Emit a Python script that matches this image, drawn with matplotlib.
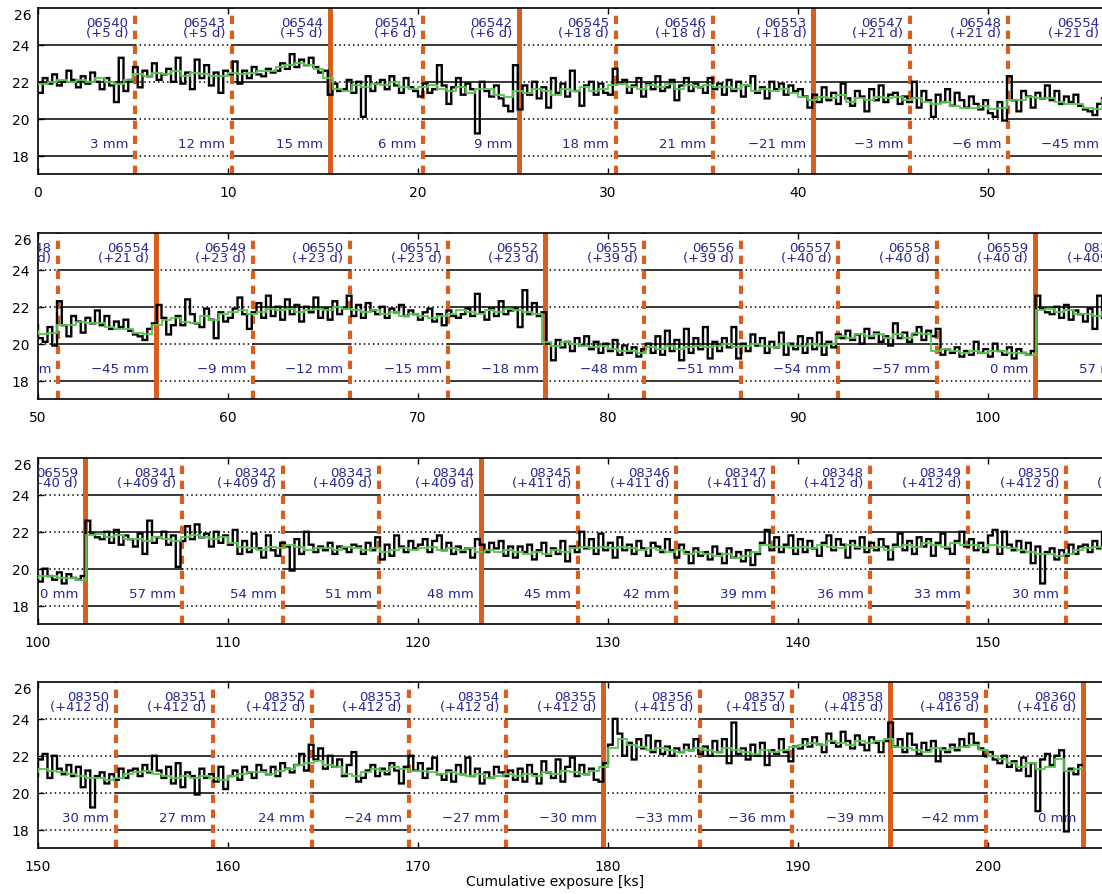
import numpy as np
import matplotlib
matplotlib.use("Agg")
import matplotlib.pyplot as plt

# count rate, 0.25 ks bins, one row = 5 ks of cumulative exposure
bin_ks = 0.25
rate = [
    21.4, 22.2, 21.9, 22.4, 21.8, 22.0, 22.6, 22.1, 21.7, 22.3, 21.9, 22.5, 22.0, 21.6, 22.2, 21.8, 20.9, 23.3, 21.5, 22.1,
    22.8, 21.7, 22.6, 22.3, 23.0, 22.1, 22.4, 22.7, 22.0, 23.3, 21.9, 22.5, 21.6, 23.2, 22.2, 22.9, 21.8, 22.5, 21.4, 22.6,
    22.4, 23.1, 21.9, 22.6, 22.2, 22.8, 22.4, 22.3, 22.7, 22.5, 22.6, 23.0, 22.7, 23.5, 22.8, 23.2, 22.9, 23.3, 22.8, 22.5,
    22.6, 21.3, 21.9, 21.5, 21.6, 22.1, 21.4, 22.0, 20.1, 22.3, 21.5, 21.9, 22.1, 21.6, 22.3, 21.8, 21.4, 22.2, 21.7, 21.5,
    21.2, 21.9, 21.4, 21.6, 22.9, 21.8, 20.8, 21.7, 22.2, 21.3, 21.9, 21.6, 19.2, 22.0, 21.5, 21.2, 21.8, 21.1, 20.7, 20.4,
    22.9, 20.5, 21.8, 21.3, 22.0, 21.1, 21.7, 20.6, 22.2, 21.4, 21.9, 21.2, 22.6, 21.5, 20.7, 21.8, 22.0, 21.3, 21.9, 21.4,
    21.3, 22.7, 21.9, 22.1, 21.4, 21.8, 22.2, 21.2, 21.9, 21.6, 22.3, 21.5, 21.7, 22.1, 21.0, 21.8, 22.2, 21.5, 21.9, 21.7,
    21.4, 22.2, 21.6, 21.9, 21.3, 22.1, 21.5, 22.0, 21.2, 21.8, 22.3, 21.4, 21.7, 21.1, 22.0, 21.6, 21.9, 21.3, 21.8, 21.5,
    21.6, 21.2, 20.6, 21.3, 20.9, 21.7, 21.0, 21.4, 20.8, 21.9, 21.1, 20.7, 21.5, 21.2, 20.4, 21.6, 21.0, 21.8, 20.9, 21.3,
    21.4, 20.8, 21.2, 20.9, 22.0, 20.6, 21.5, 21.0, 20.1, 21.3, 20.9, 21.6, 20.7, 21.4, 21.0, 20.6, 21.2, 20.8, 20.5, 21.0,
    20.3, 20.1, 20.9, 19.9, 22.3, 21.0, 20.4, 21.5, 21.2, 20.6, 21.4, 21.1, 21.8, 21.0, 21.5, 20.8, 21.2, 20.9, 21.3, 20.7,
    20.5, 20.4, 20.2, 20.8, 21.1, 22.1, 21.4, 20.5, 21.0, 21.5, 21.0, 22.4, 21.6, 21.1, 20.9, 21.9, 21.3, 20.3, 21.7, 21.2,
    21.4, 21.9, 22.5, 21.6, 20.8, 21.7, 22.2, 21.4, 22.6, 21.5, 22.0, 21.3, 22.4, 21.6, 22.1, 21.2, 22.0, 21.7, 22.5, 21.4,
    21.9, 21.3, 22.3, 21.6, 21.9, 22.6, 21.5, 22.1, 21.4, 22.2, 21.8, 21.6, 22.0, 21.4, 21.9, 21.7, 22.1, 21.5, 21.8, 21.6,
    21.3, 21.7, 21.9, 21.2, 21.6, 21.0, 21.8, 21.5, 21.4, 21.6, 21.9, 21.5, 22.7, 21.7, 21.3, 21.9, 21.5, 22.3, 21.6, 21.8,
    21.9, 20.9, 22.9, 21.6, 22.2, 21.5, 21.7, 20.0, 19.1, 20.2, 19.8, 20.1, 19.6, 20.3, 19.9, 20.4, 19.7, 20.1, 19.5, 20.0,
    19.6, 20.2, 19.4, 19.9, 19.5, 19.8, 19.3, 19.7, 20.0, 19.5, 20.4, 19.4, 20.7, 19.6, 20.2, 19.1, 20.8, 19.5, 20.3, 19.7,
    20.9, 19.2, 20.1, 19.6, 20.3, 19.8, 20.9, 19.2, 20.0, 19.6, 20.5, 19.9, 20.3, 19.5, 20.1, 19.8, 20.6, 19.4, 20.0, 19.7,
    20.4, 19.5, 20.3, 19.7, 20.6, 19.4, 20.1, 19.8, 20.5, 20.3, 20.7, 20.2, 20.5, 20.0, 20.8, 20.3, 20.6, 20.1, 20.4, 19.9,
    21.1, 20.3, 20.6, 20.1, 20.5, 20.9, 20.2, 20.7, 20.4, 20.8, 19.4, 19.7, 19.5, 19.8, 19.3, 19.6, 19.4, 20.1, 19.5, 19.7,
    19.3, 20.0, 19.6, 19.4, 19.8, 19.2, 19.7, 19.5, 19.4, 19.6, 22.6, 21.9, 21.7, 21.6, 22.0, 21.4, 22.1, 21.3, 21.8, 21.6,
    21.2, 21.9, 20.8, 22.6, 21.4, 21.7, 22.0, 21.3, 21.8, 20.1, 21.5, 22.3, 21.6, 22.4, 21.7, 21.9, 21.2, 22.0, 21.4, 21.8,
    21.3, 22.1, 20.8, 21.5, 20.9, 21.9, 21.1, 20.6, 21.8, 21.0, 20.7, 21.4, 21.2, 19.9, 21.6, 20.8, 22.0, 21.3, 20.9, 21.2,
    21.0, 21.4, 20.8, 21.2, 21.1, 20.9, 21.3, 21.2, 20.8, 21.4, 21.0, 21.7, 20.5, 21.3, 20.7, 21.8, 21.2, 20.9, 21.5, 21.1,
    21.3, 21.6, 20.9, 21.5, 21.8, 21.0, 21.4, 20.8, 21.2, 20.9, 21.1, 20.6, 21.6, 21.3, 20.9, 21.4, 21.1, 21.5, 20.7, 21.2,
    20.6, 21.2, 20.9, 21.3, 20.5, 21.0, 21.4, 20.7, 21.1, 20.8, 21.5, 20.4, 21.2, 20.9, 22.0, 21.1, 21.6, 20.8, 21.9, 21.0,
    21.4, 20.6, 21.7, 21.0, 21.3, 20.8, 21.5, 21.1, 20.7, 21.4, 21.2, 20.9, 21.6, 21.0, 20.6, 21.3, 20.9, 20.3, 21.1, 20.7,
    20.9, 20.5, 21.2, 20.8, 20.3, 21.1, 20.6, 20.9, 20.4, 21.0, 20.2, 20.8, 21.4, 22.1, 21.0, 21.7, 20.9, 21.3, 21.8, 20.8,
    21.6, 20.9, 21.5, 21.1, 20.7, 21.4, 21.8, 21.0, 21.6, 21.3, 20.6, 21.5, 21.1, 21.7, 20.9, 21.4, 21.0, 21.6, 21.2, 20.5,
    21.3, 21.9, 21.0, 21.5, 20.8, 21.7, 21.2, 21.6, 20.7, 21.4, 21.9, 21.1, 20.8, 21.5, 22.0, 21.2, 21.6, 21.0, 21.4, 20.9,
    21.8, 22.1, 20.8, 22.0, 21.3, 21.0, 21.5, 20.9, 21.4, 20.3, 21.2, 19.2, 20.9, 21.1, 20.5, 21.0, 20.7, 21.3, 20.8, 21.2,
    21.3, 20.9, 21.5, 21.1, 22.0, 21.2, 20.8, 21.4, 20.5, 21.6, 20.3, 21.1, 20.9, 19.9, 21.3, 20.8, 21.0, 20.6, 21.4, 20.2,
    20.9, 21.2, 20.7, 21.4, 21.1, 20.8, 21.5, 21.2, 21.0, 21.4, 20.9, 21.6, 21.3, 21.1, 21.5, 22.1, 21.2, 22.6, 21.8, 22.4,
    21.3, 22.0, 21.4, 21.8, 20.9, 21.5, 22.2, 20.6, 20.8, 21.2, 21.5, 20.9, 21.3, 21.0, 21.6, 21.2, 20.5, 21.4, 22.0, 21.2,
    21.6, 20.8, 21.3, 21.9, 21.0, 20.7, 21.2, 20.6, 21.5, 21.0, 21.9, 20.9, 21.3, 20.5, 21.1, 20.8, 21.4, 21.1, 20.9, 21.2,
    20.7, 21.3, 20.6, 21.5, 21.0, 20.5, 21.7, 21.1, 20.8, 21.8, 20.6, 21.4, 21.9, 20.9, 21.5, 21.0, 21.3, 20.7, 20.6, 21.6,
    22.6, 24.0, 23.2, 22.0, 22.7, 21.8, 22.9, 22.4, 23.1, 22.2, 22.8, 22.1, 22.5, 22.0, 22.4, 22.2, 22.6, 22.3, 22.9, 22.1,
    22.5, 22.0, 22.8, 22.2, 22.9, 21.6, 23.8, 22.1, 22.4, 21.8, 22.6, 22.0, 22.7, 21.5, 22.3, 22.1, 22.9, 22.2, 21.7, 22.5,
    22.4, 22.9, 22.5, 23.0, 22.6, 22.2, 23.2, 22.7, 22.5, 23.3, 22.8, 22.4, 23.1, 22.6, 22.3, 23.0, 22.7, 22.2, 22.8, 23.8,
    22.5, 22.9, 22.2, 23.2, 22.6, 22.1, 22.7, 22.3, 22.8, 21.7, 22.4, 22.2, 22.6, 22.3, 22.9, 22.5, 23.2, 22.7, 22.4, 22.0,
    22.2, 21.8, 21.6, 22.0, 21.4, 21.7, 21.2, 21.9, 20.9, 21.6, 19.0, 21.8, 22.1, 21.5, 22.0, 22.3, 17.9, 21.3, 21.0, 21.5,
]

# smoothed rate, 0.5 ks bins
smooth_ks = 0.5
rate_smooth = [
    21.9, 22.0, 22.1, 22.0, 22.1, 22.0, 22.2, 22.0, 21.9, 22.1,
    22.4, 22.3, 22.5, 22.4, 22.6, 22.3, 22.5, 22.4, 22.3, 22.3,
    22.5, 22.4, 22.5, 22.6, 22.6, 22.8, 22.9, 23.0, 22.9, 22.7,
    22.2, 21.6, 21.5, 21.8, 21.7, 21.9, 21.8, 22.0, 21.7, 21.6,
    21.7, 21.8, 21.6, 21.5, 21.7, 21.4, 21.6, 21.6, 21.3, 21.2,
    21.5, 21.4, 21.6, 21.5, 21.3, 21.6, 21.5, 21.7, 21.5, 21.6,
    21.8, 21.9, 21.7, 21.6, 21.8, 21.7, 21.9, 21.6, 21.8, 21.7,
    21.8, 21.7, 21.7, 21.6, 21.8, 21.5, 21.6, 21.5, 21.6, 21.4,
    21.2, 21.0, 21.2, 21.1, 21.3, 20.9, 21.1, 21.0, 21.2, 21.1,
    21.2, 21.0, 21.1, 20.9, 20.8, 20.9, 20.7, 20.6, 20.6, 20.7,
    20.5, 20.6, 21.0, 21.0, 21.2, 21.1, 21.1, 20.9, 20.8, 20.8,
    20.6, 20.5, 21.0, 21.3, 21.4, 21.2, 21.1, 21.5, 21.3, 21.6,
    21.7, 21.8, 21.6, 21.7, 21.9, 21.8, 21.9, 21.7, 21.8, 21.9,
    21.8, 22.0, 21.9, 21.8, 21.7, 21.8, 21.6, 21.7, 21.5, 21.6,
    21.5, 21.4, 21.5, 21.6, 21.8, 21.7, 21.6, 21.8, 21.7, 21.9,
    21.8, 21.7, 21.6, 20.1, 19.9, 20.1, 20.0, 19.9, 19.8, 19.9,
    19.7, 19.6, 19.6, 19.5, 19.8, 19.7, 19.9, 19.7, 19.8, 19.9,
    19.8, 19.9, 20.0, 19.8, 19.9, 20.0, 19.9, 19.8, 20.0, 19.9,
    19.9, 20.0, 19.9, 20.0, 20.4, 20.3, 20.5, 20.4, 20.5, 20.3,
    20.5, 20.3, 20.6, 20.5, 19.6, 19.7, 19.6, 19.5, 19.6, 19.5,
    19.6, 19.6, 19.5, 19.5, 19.4, 21.8, 21.9, 21.7, 21.8, 21.6,
    21.6, 21.5, 21.7, 21.6, 21.5, 21.7, 21.8, 21.7, 21.6, 21.7,
    21.4, 21.2, 21.1, 21.0, 21.2, 21.1, 21.3, 21.2, 21.0, 21.1,
    21.1, 21.0, 21.2, 21.1, 21.0, 21.1, 20.9, 21.0, 21.1, 21.0,
    21.1, 21.2, 21.0, 21.1, 21.0, 21.1, 20.9, 21.0, 20.9, 21.0,
    20.9, 20.8, 20.9, 20.8, 21.0, 20.9, 21.1, 21.2, 21.1, 21.2,
    21.1, 21.2, 21.1, 21.0, 21.1, 21.0, 20.9, 21.0, 20.8, 20.9,
    20.8, 20.7, 20.8, 20.6, 20.7, 20.9, 21.3, 21.2, 21.2, 21.1,
    21.2, 21.1, 21.3, 21.2, 21.1, 21.3, 21.2, 21.1, 21.2, 21.0,
    21.2, 21.3, 21.2, 21.4, 21.3, 21.2, 21.4, 21.3, 21.3, 21.1,
    21.3, 21.2, 21.1, 21.0, 20.9, 20.8, 20.8, 20.7, 20.8, 21.0,
    21.1, 21.2, 21.0, 20.9, 20.8, 20.9, 20.8, 20.9, 20.8, 20.7,
    20.9, 21.0, 21.1, 21.1, 21.0, 21.2, 21.3, 21.5, 21.6, 21.7,
    21.5, 21.4, 21.0, 20.9, 21.1, 21.3, 21.2, 21.4, 21.3, 21.2,
    21.2, 21.1, 21.0, 21.1, 21.0, 20.9, 21.0, 20.8, 20.9, 21.0,
    20.9, 21.0, 20.9, 21.1, 21.0, 21.2, 21.1, 21.0, 21.2, 21.4,
    22.4, 22.9, 22.6, 22.5, 22.3, 22.4, 22.3, 22.2, 22.3, 22.4,
    22.3, 22.2, 22.4, 22.3, 22.2, 22.1, 22.3, 22.2, 22.3, 22.5,
    22.6, 22.7, 22.6, 22.8, 22.7, 22.6, 22.8, 22.7, 22.8, 22.9,
    22.5, 22.4, 22.3, 22.2, 22.4, 22.3, 22.4, 22.5, 22.6, 22.3,
    22.0, 21.8, 21.6, 21.4, 21.6, 21.3, 21.4, 21.8, 21.2, 21.3,
]

# observations: end of each one in cumulative exposure [ks]
seg_end = [5.1, 10.2, 15.35, 20.25, 25.3, 30.4, 35.5, 40.8, 45.9, 51.05,
           56.2, 61.3, 66.4, 71.6, 76.7, 81.9, 87.0, 92.1, 97.3, 102.45,
           107.6, 112.9, 117.95, 123.3, 128.4, 133.6, 138.7, 143.8, 148.95, 154.1,
           159.2, 164.4, 169.5, 174.65, 179.75, 184.85, 189.7, 194.85, 199.9, 205.0]
obsid = ['06540', '06543', '06544', '06541', '06542', '06545', '06546', '06553', '06547', '06548',
         '06554', '06549', '06550', '06551', '06552', '06555', '06556', '06557', '06558', '06559',
         '08341', '08342', '08343', '08344', '08345', '08346', '08347', '08348', '08349', '08350',
         '08351', '08352', '08353', '08354', '08355', '08356', '08357', '08358', '08359', '08360']
days = [5, 5, 5, 6, 6, 18, 18, 18, 21, 21,
        21, 23, 23, 23, 23, 39, 39, 40, 40, 40,
        409, 409, 409, 409, 411, 411, 411, 412, 412, 412,
        412, 412, 412, 412, 412, 415, 415, 415, 416, 416]
offset_mm = [3, 12, 15, 6, 9, 18, 21, -21, -3, -6,
             -45, -9, -12, -15, -18, -48, -51, -54, -57, 0,
             57, 54, 51, 48, 45, 42, 39, 36, 33, 30,
             27, 24, -24, -27, -30, -33, -36, -39, -42, 0]
pointing_break = [False, False, True, False, True, False, False, True, False, False,
                  True, False, False, False, True, False, False, False, False, True,
                  False, False, False, True, False, False, False, False, False, False,
                  False, False, False, False, True, False, False, True, False, True]

panel_start = [0, 50, 100, 150]
grid_levels = [18, 20, 22, 24]

W, H = 1102, 895
fig = plt.figure(figsize=(W / 100, H / 100), dpi=100)
plt.rcParams['font.family'] = ['DejaVu Sans']

orange = '#d95f1e'
navy = '#262690'
span = 58.0  # ks shown per panel axes (right part falls outside the image)

edges = np.arange(len(rate) + 1) * bin_ks
edges_s = np.arange(len(rate_smooth) + 1) * smooth_ks
seg_start = [0.0] + seg_end[:-1]

for p, x0 in enumerate(panel_start):
    top = 9 + 225 * p - (1 if p == 3 else 0)
    ax = fig.add_axes([38 / W, 1 - (top + 166) / H, span * 19 / W, 166 / H])

    # reference levels, alternating solid / dotted per observation
    for i in range(len(seg_end)):
        ls = '-' if i % 2 == 0 else (0, (1, 2))
        for y in grid_levels:
            ax.plot([seg_start[i], seg_end[i]], [y, y], color='k', lw=1.1, ls=ls, zorder=1)
    for y in grid_levels:
        ax.plot([seg_end[-1], 260], [y, y], color='k', lw=1.1, zorder=1)

    for xe, brk in zip(seg_end, pointing_break):
        if brk:
            ax.axvline(xe, color=orange, lw=3.6, zorder=2)
        else:
            ax.axvline(xe, color=orange, lw=3.0, ls=(0, (2.0, 1.6)), zorder=2)

    ax.stairs(rate, edges, baseline=None, color='k', lw=1.7, zorder=3)
    ax.stairs(rate_smooth, edges_s, baseline=None, color='#55c84a', lw=1.3, zorder=4)

    for xe, ob, d, mm in zip(seg_end, obsid, days, offset_mm):
        xt = xe - 0.35
        ax.text(xt, 25.2, ob, ha='right', va='center', color=navy, fontsize=9.5, clip_on=True, zorder=5)
        ax.text(xt, 24.65, f'(+{d} d)', ha='right', va='center', color=navy, fontsize=9.5, clip_on=True, zorder=5)
        ax.text(xt, 18.65, f'{mm} mm'.replace('-', '\u2212'), ha='right', va='center', color=navy,
                fontsize=9.5, clip_on=True, zorder=5)

    ax.set_xlim(x0, x0 + span)
    ax.set_ylim(17, 26)
    ax.set_xticks(np.arange(x0, x0 + span, 10))
    ax.set_yticks(grid_levels)
    ax.tick_params(axis='x', direction='in', top=True, length=4, width=1, pad=8, labelsize=10)
    ax.tick_params(axis='y', direction='in', right=True, length=4, width=1, pad=6, labelsize=10)
    ax.text(-0.006, 26, '26', transform=ax.get_yaxis_transform(), ha='right', va='top', fontsize=10)
    for s in ax.spines.values():
        s.set_linewidth(1.2)

fig.text(555 / W, 1 - 882 / H, 'Cumulative exposure [ks]', ha='center', va='center', fontsize=10)

fig.savefig('out.png', dpi=100)
